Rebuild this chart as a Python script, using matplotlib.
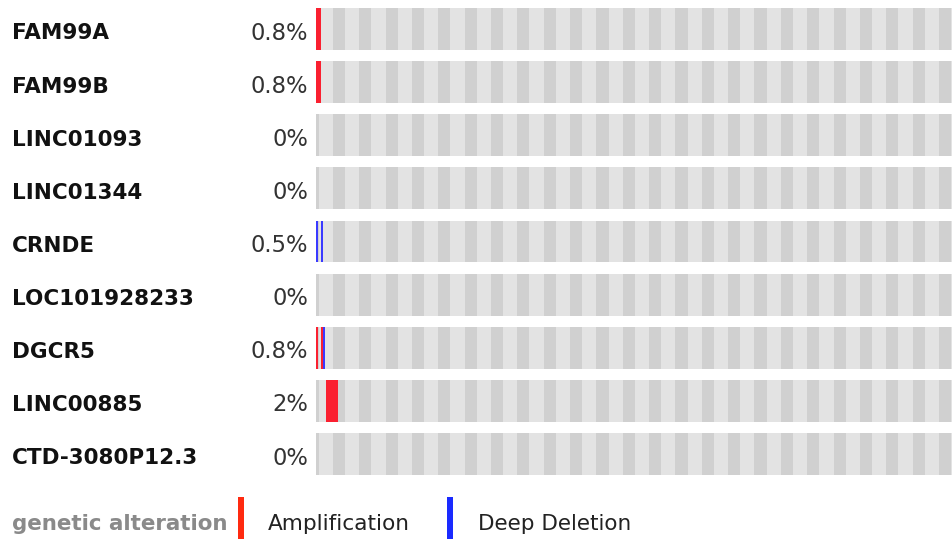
import numpy as np
import matplotlib
matplotlib.use("Agg")
import matplotlib.pyplot as plt
from matplotlib.patches import Rectangle
from matplotlib.transforms import blended_transform_factory

# ---------------- data ----------------
genes = ["FAM99A", "FAM99B", "LINC01093", "LINC01344", "CRNDE",
         "LOC101928233", "DGCR5", "LINC00885", "CTD-3080P12.3"]
pct_labels = ["0.8%", "0.8%", "0%", "0%", "0.5%", "0%", "0.8%", "2%", "0%"]
n_samples = 370

# altered sample indices per gene (after oncoprint sorting)
amp_samples = [[0, 1, 2], [0, 1, 2], [], [], [], [], [0, 3], [6, 7, 8, 9, 10, 11, 12], []]
del_samples = [[], [], [], [], [0, 3], [], [4], [], []]

amp_color = "#fa2030"
del_color = "#3a3aff"
light_grey = "#e3e3e3"
dark_grey = "#d0d0d0"

# ---------------- figure ----------------
fig = plt.figure(figsize=(9.53, 5.39), dpi=100)
W, H = 953, 539
ax = fig.add_axes([316 / W, 1 - 475 / H, 637 / W, 467 / H])
ax.set_xlim(0, n_samples)
ax.set_ylim(len(genes) - 1 + 0.4, -0.4)
ax.axis("off")

row_h = 0.79
period = 15.3
stripe_w = 7.0
stripe_starts = np.arange(9.9 - period, n_samples, period)
stripes = [(max(s, 0), stripe_w - max(0, -s)) for s in stripe_starts if s + stripe_w > 0]

for i, g in enumerate(genes):
    ax.barh(i, n_samples, height=row_h, left=0, color=light_grey, linewidth=0)
    ax.broken_barh(stripes, (i - row_h / 2, row_h), facecolors=dark_grey, linewidth=0)
    if amp_samples[i]:
        ax.bar(amp_samples[i], row_h, bottom=i - row_h / 2, width=1, align="edge",
               color=amp_color, linewidth=0)
    if del_samples[i]:
        ax.bar(del_samples[i], row_h, bottom=i - row_h / 2, width=1, align="edge",
               color=del_color, linewidth=0)

# row labels
tr = blended_transform_factory(fig.transFigure, ax.transData)
for i, g in enumerate(genes):
    ax.text(12 / W, i + 0.08, g, transform=tr, ha="left", va="center",
            fontsize=15.5, fontweight="bold", color="#111111", clip_on=False)
    ax.text(308 / W, i + 0.08, pct_labels[i], transform=tr, ha="right", va="center",
            fontsize=16.3, color="#333333", clip_on=False)

# legend
fig.text(12 / W, 1 - 524 / H, "genetic alteration", ha="left", va="center",
         fontsize=15.4, fontweight="bold", color="#8a8a8a")
fig.add_artist(Rectangle((238 / W, 0), 6 / W, 42 / H, transform=fig.transFigure,
                         facecolor="#ff2a10", edgecolor="none"))
fig.text(268 / W, 1 - 524 / H, "Amplification", ha="left", va="center",
         fontsize=15.6, color="#222222")
fig.add_artist(Rectangle((447 / W, 0), 6 / W, 42 / H, transform=fig.transFigure,
                         facecolor="#1a2aff", edgecolor="none"))
fig.text(478 / W, 1 - 524 / H, "Deep Deletion", ha="left", va="center",
         fontsize=15.5, color="#222222")

fig.savefig("out.png", dpi=100)
